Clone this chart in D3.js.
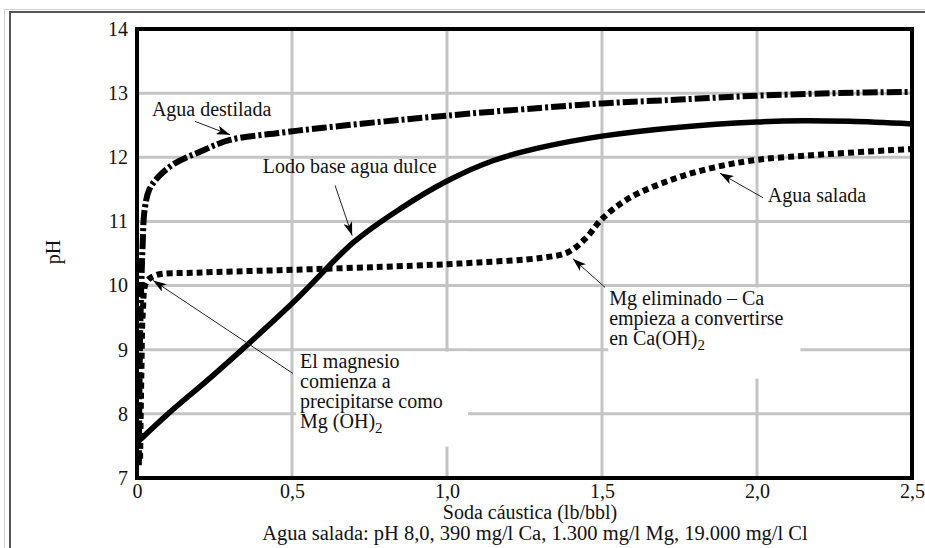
<!DOCTYPE html>
<meta charset="utf-8">
<body style="margin:0;background:#fff">
<script src="https://d3js.org/d3.v7.min.js"></script>
<style>
  body { font-family: "Liberation Serif", serif; }
  .grid line { stroke: #c4c4c4; stroke-width: 3; }
  .note { font-size: 20px; fill: #111; }
</style>
<script>
// soda caustica (lb/bbl) vs pH
var xTicks = [0, 0.5, 1.0, 1.5, 2.0, 2.5];
var xTickLabels = ["0", "0,5", "1,0", "1,5", "2,0", "2,5"];
var yTicks = [7, 8, 9, 10, 11, 12, 13, 14];

var destiladaX = [0.006, 0.01, 0.018, 0.025, 0.04, 0.07, 0.12, 0.2, 0.3, 0.46, 0.6, 0.8, 1.0, 1.3, 1.5, 1.75, 2.0, 2.25, 2.5];
var destiladaY = [7.2, 9.2, 10.6, 11.2, 11.5, 11.7, 11.9, 12.08, 12.27, 12.38, 12.46, 12.56, 12.65, 12.77, 12.84, 12.9, 12.96, 13.0, 13.02];

var dulceX = [0, 0.1, 0.25, 0.5, 0.7, 0.85, 1.0, 1.15, 1.3, 1.5, 1.75, 2.0, 2.15, 2.3, 2.5];
var dulceY = [7.55, 8.0, 8.62, 9.72, 10.68, 11.2, 11.63, 11.95, 12.15, 12.33, 12.47, 12.55, 12.57, 12.56, 12.52];

var saladaX = [0.01, 0.014, 0.019, 0.03, 0.06, 0.19, 0.46, 0.89, 1.1, 1.3, 1.39, 1.45, 1.5, 1.59, 1.73, 1.86, 2.0, 2.2, 2.5];
var saladaY = [7.3, 8.6, 9.6, 10.05, 10.16, 10.2, 10.24, 10.31, 10.36, 10.43, 10.52, 10.75, 11.04, 11.37, 11.66, 11.84, 11.96, 12.04, 12.13];

// annotations: text lines, anchor (data units), arrow tail -> tip (data units)
var notes = [
  {lines: ["Agua destilada"], x: 0.048, y: 12.65, from: [0.187, 12.56], to: [0.30, 12.35]},
  {lines: ["Lodo base agua dulce"], x: 0.406, y: 11.75, from: [0.639, 11.56], to: [0.694, 10.78]},
  {lines: ["Agua salada"], x: 2.035, y: 11.3, from: [2.019, 11.37], to: [1.881, 11.75]},
  {lines: ["El magnesio", "comienza a", "precipitarse como", "Mg (OH)|2"], x: 0.526, y: 8.72,
   from: [0.503, 8.63], to: [0.052, 10.08], box: [0.513, 8.97, 1.068, 7.49]},
  {lines: ["Mg eliminado \u2013 Ca", "empieza a convertirse", "en Ca(OH)|2"], x: 1.523, y: 9.70,
   from: [1.51, 9.97], to: [1.406, 10.42], box: [1.52, 9.97, 2.14, 8.55]}
];

var margin = {top: 29, right: 13, bottom: 70, left: 137},
    width = 925 - margin.left - margin.right,
    height = 548 - margin.top - margin.bottom;

var svg = d3.select("body").append("svg")
    .attr("width", 925)
    .attr("height", 548);

// page frame
svg.append("path").attr("d", "M4.5,548V9.5H925").attr("fill", "none").attr("stroke", "#d0d0d0").attr("stroke-width", 1);
svg.append("path").attr("d", "M10,548V12H925").attr("fill", "none").attr("stroke", "#555").attr("stroke-width", 2);

var g = svg.append("g").attr("transform", "translate(" + margin.left + "," + margin.top + ")");

var x = d3.scaleLinear().domain([0, 2.5]).range([0, width]);
var y = d3.scaleLinear().domain([7, 14]).range([height, 0]);

// grid
var grid = g.append("g").attr("class", "grid");
grid.selectAll(".gx").data(xTicks.slice(1, -1)).enter().append("line")
    .attr("x1", d => x(d)).attr("x2", d => x(d)).attr("y1", 0).attr("y2", height);
grid.selectAll(".gy").data(yTicks.slice(1, -1)).enter().append("line")
    .attr("y1", d => y(d)).attr("y2", d => y(d)).attr("x1", 0).attr("x2", width);

// white boxes behind the long notes
g.selectAll(".box").data(notes.filter(d => d.box)).enter().append("rect")
    .attr("fill", "#fff")
    .attr("x", d => x(d.box[0])).attr("y", d => y(d.box[1]))
    .attr("width", d => x(d.box[2]) - x(d.box[0]))
    .attr("height", d => y(d.box[3]) - y(d.box[1]));

// axes
var xAxis = g.append("g").attr("transform", "translate(0," + height + ")")
    .call(d3.axisBottom(x).tickValues(xTicks).tickFormat((d, i) => xTickLabels[i]).tickSize(0).tickPadding(6));
var yAxis = g.append("g")
    .call(d3.axisLeft(y).tickValues(yTicks).tickFormat(d3.format("d")).tickSize(0).tickPadding(9));
g.selectAll(".domain").remove();
g.selectAll(".tick text")
    .style("font-family", "'Liberation Serif', serif")
    .style("font-size", "20px")
    .style("fill", "#111");

// curves
var line = d3.line().x(d => x(d[0])).y(d => y(d[1])).curve(d3.curveCatmullRom.alpha(0.5));
function pts(xs, ys) { return xs.map((v, i) => [v, ys[i]]); }

g.append("path").datum(pts(dulceX, dulceY))
    .attr("d", line).attr("fill", "none").attr("stroke", "#000").attr("stroke-width", 5.5);
g.append("path").datum(pts(saladaX, saladaY))
    .attr("d", line).attr("fill", "none").attr("stroke", "#000").attr("stroke-width", 6)
    .attr("stroke-dasharray", "6,4");
g.append("path").datum(pts(destiladaX, destiladaY))
    .attr("d", line).attr("fill", "none").attr("stroke", "#000").attr("stroke-width", 6)
    .attr("stroke-dasharray", "15,3,3,3");

// frame
g.append("rect").attr("width", width).attr("height", height)
    .attr("fill", "none").attr("stroke", "#000").attr("stroke-width", 4);

// arrows
svg.append("defs").append("marker")
    .attr("id", "arr").attr("viewBox", "0 0 12 8").attr("refX", 12).attr("refY", 4)
    .attr("markerWidth", 14).attr("markerHeight", 9).attr("markerUnits", "userSpaceOnUse")
    .attr("orient", "auto")
  .append("path").attr("d", "M0,0L12,4L0,8L3,4Z").attr("fill", "#000");

g.selectAll(".arrow").data(notes).enter().append("line")
    .attr("x1", d => x(d.from[0])).attr("y1", d => y(d.from[1]))
    .attr("x2", d => x(d.to[0])).attr("y2", d => y(d.to[1]))
    .attr("stroke", "#222").attr("stroke-width", 1)
    .attr("marker-end", "url(#arr)");

// note text
var nt = g.selectAll(".note").data(notes).enter().append("text")
    .attr("class", "note")
    .attr("x", d => x(d.x)).attr("y", d => y(d.y));
nt.each(function(d) {
  var t = d3.select(this);
  d.lines.forEach(function(s, i) {
    var parts = s.split("|");
    t.append("tspan").attr("x", x(d.x)).attr("dy", i ? 20 : 0).text(parts[0]);
    if (parts[1]) {
      t.append("tspan").attr("dy", 5).attr("font-size", "15px").text(parts[1]);
      t.append("tspan").attr("dy", -5).text("");
    }
  });
});

// axis titles
svg.append("text").attr("transform", "translate(60,252) rotate(-90)")
    .attr("text-anchor", "middle").attr("font-size", "20px").attr("fill", "#111").text("pH");
svg.append("text").attr("x", 530).attr("y", 519)
    .attr("text-anchor", "middle").attr("font-size", "20px").attr("fill", "#111")
    .text("Soda c\u00e1ustica (lb/bbl)");
svg.append("text").attr("x", 535).attr("y", 540)
    .attr("text-anchor", "middle").attr("font-size", "20.5px").attr("fill", "#111")
    .text("Agua salada: pH 8,0, 390 mg/l Ca, 1.300 mg/l Mg, 19.000 mg/l Cl");
</script>
